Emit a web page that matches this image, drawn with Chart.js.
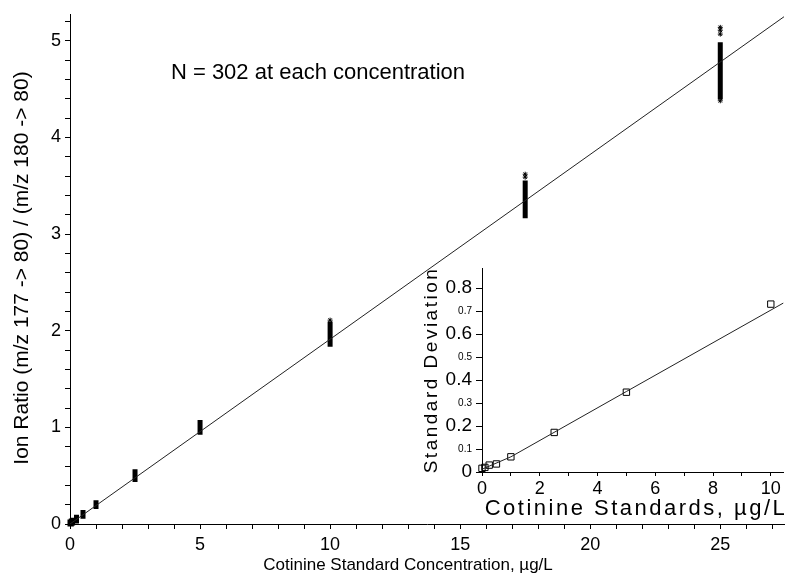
<!DOCTYPE html>
<html>
<head>
<meta charset="utf-8">
<script src="https://cdn.jsdelivr.net/npm/chart.js@4.4.0/dist/chart.umd.min.js"></script>
<style>
  body { margin: 0; background: #fff; }
  #wrap { position: relative; width: 789px; height: 574px; overflow: hidden; }
  #mainChart { position: absolute; left: 0; top: 0; }
  #insetChart { position: absolute; left: 400px; top: 250px; }
</style>
</head>
<body>
<div id="wrap">
  <canvas id="mainChart" width="789" height="574"></canvas>
  <canvas id="insetChart" width="389" height="280"></canvas>
</div>
<script>
// main plot: ion ratio at each standard concentration (302 replicates each)
const concentrations = [0, 0.05, 0.1, 0.25, 0.5, 1, 2.5, 5, 10, 17.5, 25];
const ratioLow  = [0.0, 0.0, 0.01, 0.03, 0.08, 0.18, 0.46, 0.95, 1.86, 3.19, 4.42];
const ratioHigh = [0.02, 0.03, 0.04, 0.07, 0.12, 0.22, 0.54, 1.05, 2.07, 3.53, 4.96];

// stray replicates drawn as asterisks
const outlierX = [25, 25, 25, 25, 17.5, 17.5, 10];
const outlierY = [5.14, 5.11, 5.07, 4.38, 3.62, 3.59, 2.11];

// regression line
const fitLineX = [0, 27.45];
const fitLineY = [0, 5.25];

const mainXTicks = [0, 5, 10, 15, 20, 25];
const mainYTicks = [0, 1, 2, 3, 4, 5];

// inset: standard deviation vs concentration
const insetConc = [0, 0.1, 0.25, 0.5, 1, 2.5, 5, 10];
const insetSD   = [0.016, 0.02, 0.03, 0.035, 0.066, 0.172, 0.347, 0.73];
const insetFitX = [0, 1, 5, 10.44];
const insetFitY = [0.012, 0.066, 0.35, 0.735];
const insetXTicks = [0, 2, 4, 6, 8, 10];
const insetYTicks = [0, 0.1, 0.2, 0.3, 0.4, 0.5, 0.6, 0.7, 0.8];

Chart.defaults.color = '#000';
Chart.defaults.font.family = '"Liberation Sans", Arial, sans-serif';

// draws free text (axis titles, annotation) at fixed spots
const textPlugin = {
  id: 'texts',
  afterDraw(chart, args, opts) {
    const ctx = chart.ctx;
    opts.items.forEach(t => {
      ctx.save();
      ctx.font = t.font;
      ctx.fillStyle = '#000';
      if (t.spacing) ctx.letterSpacing = t.spacing;
      ctx.textAlign = 'center';
      ctx.textBaseline = 'middle';
      ctx.translate(t.x, t.y);
      if (t.rotate) ctx.rotate(t.rotate);
      ctx.fillText(t.text, 0, 0);
      ctx.restore();
    });
  }
};

function steps(max, step) {
  let out = [];
  for (let i = 0; i * step <= max + 1e-9; i++) out.push(Math.round(i * step * 100) / 100);
  return out;
}

// cluster bars: low -> high, broken by nulls
let clusterData = [];
concentrations.forEach((c, i) => {
  clusterData.push({x: c, y: ratioLow[i]});
  clusterData.push({x: c, y: ratioHigh[i]});
  clusterData.push({x: c, y: null});
});

new Chart(document.getElementById('mainChart'), {
  type: 'scatter',
  data: {
    datasets: [
      {
        type: 'line',
        data: fitLineX.map((x, i) => ({x: x, y: fitLineY[i]})),
        borderColor: '#222',
        borderWidth: 1,
        pointRadius: 0
      },
      {
        type: 'line',
        data: clusterData,
        borderColor: '#000',
        borderWidth: 5,
        borderCapStyle: 'square',
        pointRadius: 0,
        spanGaps: false,
        clip: false
      },
      {
        data: outlierX.map((x, i) => ({x: x, y: outlierY[i]})),
        pointStyle: 'star',
        pointRadius: 2.5,
        borderColor: '#000',
        borderWidth: 1
      }
    ]
  },
  options: {
    responsive: false,
    animation: false,
    layout: { padding: { top: 12, left: 0, right: 0, bottom: 0 } },
    plugins: {
      legend: { display: false },
      tooltip: { enabled: false },
      texts: {
        items: [
          { text: 'N = 302 at each concentration', x: 318, y: 73, font: '22px "Liberation Sans", Arial, sans-serif' },
          { text: 'Cotinine Standard Concentration, \u00b5g/L', x: 408, y: 565, font: '17px "Liberation Sans", Arial, sans-serif' },
          { text: 'Ion Ratio (m/z 177 -> 80) / (m/z 180 -> 80)', x: 22, y: 268, rotate: -Math.PI / 2, font: '21px "Liberation Sans", Arial, sans-serif' }
        ]
      }
    },
    scales: {
      x: {
        type: 'linear',
        min: 0,
        max: 27.45,
        afterFit: s => { s.height = 50; },
        afterBuildTicks: s => { s.ticks = steps(27, 1).map(v => ({value: v})); },
        ticks: {
          autoSkip: false,
          maxRotation: 0,
          padding: 5,
          font: { size: 18 },
          callback: v => mainXTicks.includes(v) ? v : ''
        },
        grid: { drawOnChartArea: false, tickLength: 5, tickColor: '#000' },
        border: { color: '#000', width: 1 }
      },
      y: {
        min: 0,
        max: 5.27,
        afterFit: s => { s.width = 70; },
        afterBuildTicks: s => { s.ticks = steps(5.2, 0.2).map(v => ({value: v})); },
        ticks: {
          autoSkip: false,
          padding: 4,
          font: { size: 18 },
          callback: v => mainYTicks.includes(v) ? v : ''
        },
        grid: { drawOnChartArea: false, tickLength: 5, tickColor: '#000' },
        border: { color: '#000', width: 1 }
      }
    }
  },
  plugins: [textPlugin]
});

new Chart(document.getElementById('insetChart'), {
  type: 'scatter',
  data: {
    datasets: [
      {
        type: 'line',
        data: insetFitX.map((x, i) => ({x: x, y: insetFitY[i]})),
        borderColor: '#222',
        borderWidth: 1,
        pointRadius: 0
      },
      {
        data: insetConc.map((x, i) => ({x: x, y: insetSD[i]})),
        pointStyle: 'rect',
        pointRadius: 4.5,
        borderColor: '#000',
        backgroundColor: 'rgba(0,0,0,0)',
        borderWidth: 1,
        clip: false
      }
    ]
  },
  options: {
    responsive: false,
    animation: false,
    layout: { padding: { top: 18, left: 0, right: 0, bottom: 0 } },
    plugins: {
      legend: { display: false },
      tooltip: { enabled: false },
      texts: {
        items: [
          { text: 'Cotinine Standards, \u00b5g/L', x: 236, y: 259, spacing: '2.5px', font: '22px "Liberation Sans", Arial, sans-serif' },
          { text: 'Standard Deviation', x: 32, y: 120, rotate: -Math.PI / 2, spacing: '2.5px', font: '19px "Liberation Sans", Arial, sans-serif' }
        ]
      }
    },
    scales: {
      x: {
        type: 'linear',
        min: 0,
        max: 10.44,
        afterFit: s => { s.height = 58; },
        afterBuildTicks: s => { s.ticks = steps(10, 1).map(v => ({value: v})); },
        ticks: {
          autoSkip: false,
          maxRotation: 0,
          padding: 2,
          font: { size: 18 },
          callback: v => insetXTicks.includes(v) ? v : ''
        },
        grid: { drawOnChartArea: false, tickLength: 4, tickColor: '#000' },
        border: { color: '#000', width: 1 }
      },
      y: {
        min: 0,
        max: 0.887,
        afterFit: s => { s.width = 82; },
        afterBuildTicks: s => { s.ticks = insetYTicks.map(v => ({value: v})); },
        ticks: {
          autoSkip: false,
          padding: 4,
          font: c => ({ size: (c.index % 2 === 0) ? 19 : 10 }),
          callback: v => v === 0 ? '0' : v.toFixed(1)
        },
        grid: { drawOnChartArea: false, tickLength: 6, tickColor: '#000' },
        border: { color: '#000', width: 1 }
      }
    }
  },
  plugins: [textPlugin]
});
</script>
</body>
</html>
